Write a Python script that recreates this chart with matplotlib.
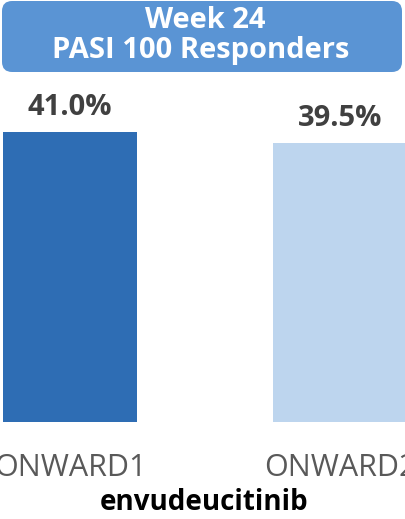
import matplotlib.pyplot as plt
from matplotlib.patches import FancyBboxPatch

plt.rcParams['font.family'] = ['Open Sans', 'DejaVu Sans']

categories = ['ONWARD1', 'ONWARD2']
values = [41.0, 39.5]
value_labels = ['41.0%', '39.5%']
bar_colors = ['#2E6DB4', '#BDD5EE']
title_lines = ['Week 24', 'PASI 100 Responders']
group_label = 'envudeucitinib'

W, H = 405, 519
fig = plt.figure(figsize=(W / 100, H / 100), dpi=100)

# axes placed so bars sit where they do in the reference (image is cropped)
ax = fig.add_axes([0, (H - 422) / H, 1, (422 - 80) / H])
x = [0, 1]
ax.bar(x, values, width=0.496, color=bar_colors)
ax.set_xlim(-70 / 270, 1 + 65 / 270)
ax.set_ylim(0, 342 / 7.07)

for xi, v, lab in zip(x, values, value_labels):
    ax.annotate(lab, (xi, v), xytext=(0, 12), textcoords='offset points',
                ha='center', va='baseline', fontsize=21, fontweight='bold',
                color='#404040')

ax.set_xticks(x)
ax.set_xticklabels(categories, fontsize=22, color='#595959')
ax.tick_params(axis='x', length=0, pad=22)
ax.set_yticks([])
for s in ax.spines.values():
    s.set_visible(False)

# title box
box = FancyBboxPatch((2 / W, (H - 72) / H), 400 / W, 71 / H,
                     boxstyle='round,pad=0,rounding_size=0.025',
                     transform=fig.transFigure, facecolor='#5A94D4',
                     edgecolor='none', mutation_aspect=W / H)
fig.patches.append(box)
fig.text(205 / W, (H - 28) / H, title_lines[0], ha='center', va='baseline',
         fontsize=21, fontweight='bold', color='white')
fig.text(201 / W, (H - 58) / H, title_lines[1], ha='center', va='baseline',
         fontsize=21, fontweight='bold', color='white')

fig.text(204 / W, (H - 510) / H, group_label, ha='center', va='baseline',
         fontsize=20, fontweight='bold', color='black')

fig.savefig('out.png', dpi=100)
